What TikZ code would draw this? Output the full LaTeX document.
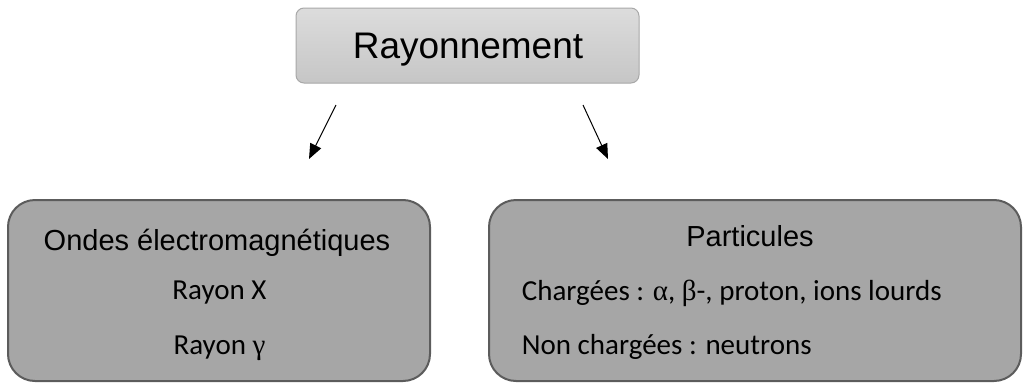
\documentclass[tikz,border=0pt]{standalone}
\usepackage{fontspec}
\setmainfont{Carlito}
\newfontfamily\arial{Liberation Sans}
\newfontfamily\greek{Liberation Serif}
\usetikzlibrary{arrows.meta,shadings}
\definecolor{topfillA}{HTML}{DCDCDC}
\definecolor{topfillB}{HTML}{C6C6C6}
\definecolor{topline}{HTML}{A8A8A8}
\definecolor{boxfill}{HTML}{A6A6A6}
\definecolor{boxline}{HTML}{5C5C5C}
\tikzset{
  topbox/.style={rectangle, rounded corners=8pt, draw=topline, line width=1pt,
    top color=topfillA, bottom color=topfillB, minimum width=343pt, minimum height=75pt, inner sep=0pt},
  bigbox/.style={rectangle, rounded corners=27pt, draw=boxline, fill=boxfill, line width=2pt,
    minimum height=181pt, inner sep=0pt},
  title/.style={font=\arial\fontsize{29pt}{34pt}\selectfont, anchor=base, inner sep=0pt},
  body/.style={font=\fontsize{29pt}{34pt}\selectfont, inner sep=0pt},
  conn/.style={line width=1pt, -{Triangle[length=15pt,width=12pt]}}
}
\begin{document}
\begin{tikzpicture}[x=1pt,y=-1pt]
\useasboundingbox (0,0) rectangle (1023,383);
\node[topbox] (top) at (467.5,45.5) {};
\node[font=\arial\fontsize{37pt}{44pt}\selectfont, anchor=base, inner sep=0pt] (toptext) at (468,58) {Rayonnement};
\node[bigbox, minimum width=422pt] (left) at (219,290.5) {};
\node[bigbox, minimum width=532pt] (right) at (755,290.5) {};
\node[title] (ondes) at (217,250) {Ondes électromagnétiques};
\node[body, anchor=base] (rx) at (219.5,299.3) {Rayon X};
\node[body, anchor=base] (rg) at (219.5,354) {Rayon {\greek γ}};
\node[title] (part) at (750,246) {Particules};
\node[body, anchor=base west] (charg) at (521.7,300.7) {Chargées : {\greek α}, {\greek β}-, proton, ions lourds};
\node[body, anchor=base west] (nonch) at (521.7,354) {Non chargées : neutrons};
\coordinate (a1s) at (336,105);
\coordinate (a1e) at (309,159);
\coordinate (a2s) at (583,105);
\coordinate (a2e) at (608,159);
\draw[conn] (a1s) -- (a1e);
\draw[conn] (a2s) -- (a2e);
\end{tikzpicture}
\end{document}
